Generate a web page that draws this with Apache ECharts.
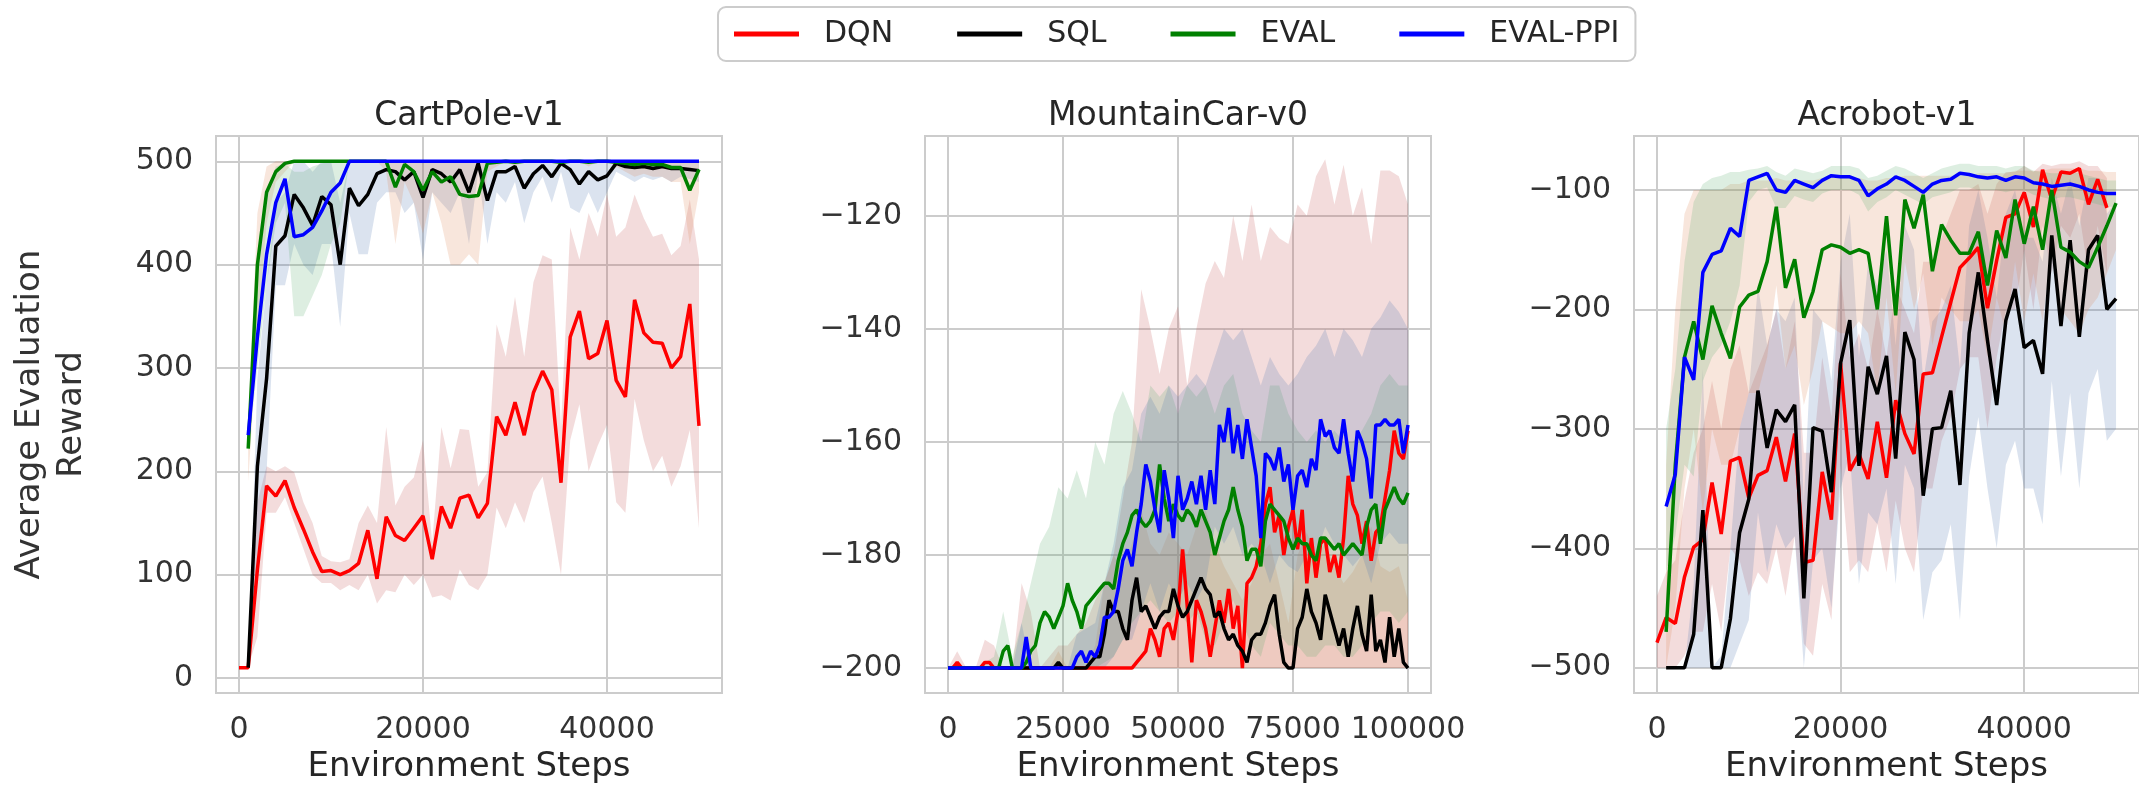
<!DOCTYPE html>
<html>
<head>
<meta charset="utf-8">
<title>Average Evaluation Reward</title>
<script src="https://cdn.jsdelivr.net/npm/echarts@6/dist/echarts.min.js"></script>
<style>
  html, body { margin: 0; padding: 0; background: #fff; }
  #chart { width: 2139px; height: 789px; }
</style>
</head>
<body>
<div id="chart"></div>
<script>
const methods = ['DQN', 'SQL', 'EVAL', 'EVAL-PPI'];
const envs = ['CartPole-v1', 'MountainCar-v0', 'Acrobot-v1'];

// tick labels
const xTicks1 = [0, 20000, 40000];
const xTicks2 = [0, 25000, 50000, 75000, 100000];
const xTicks3 = [0, 20000, 40000];
const yTicks1 = [0, 100, 200, 300, 400, 500];
const yTicks2 = [-200, -180, -160, -140, -120];
const yTicks3 = [-500, -400, -300, -200, -100];

// ---- CartPole-v1 ----
const steps1 = [0, 1000, 2000, 3000, 4000, 5000, 6000, 7000, 8000, 9000,
  10000, 11000, 12000, 13000, 14000, 15000, 16000, 17000, 18000, 19000,
  20000, 21000, 22000, 23000, 24000, 25000, 26000, 27000, 28000, 29000,
  30000, 31000, 32000, 33000, 34000, 35000, 36000, 37000, 38000, 39000,
  40000, 41000, 42000, 43000, 44000, 45000, 46000, 47000, 48000, 49000, 50000];
const dqn1 = [10, 10, 105, 186, 176, 191, 165, 144, 122, 103, 104, 100, 104, 111, 143, 96, 156, 138, 133, 145,
  157, 115, 166, 145, 174, 177, 155, 169, 253, 235, 267, 235, 276, 297, 279, 189, 330, 355, 309, 314,
  346, 288, 272, 366, 334, 325, 324, 300, 311, 362, 244];
const sql1 = [null, 10, 205, 290, 418, 428, 468, 455, 438, 466, 458, 400, 474, 457, 468, 488, 492, 490, 482, 490,
  465, 492, 488, 480, 492, 470, 498, 462, 490, 490, 495, 474, 488, 496, 485, 498, 492, 478, 490, 482,
  486, 498, 495, 494, 495, 493, 495, 493, 493, 492, 491];
const eval1 = [null, 222, 400, 470, 490, 498, 500, 500, 500, 500, 500, 500, 500, 500, 500, 500, 500, 475, 497, 490,
  472, 490, 480, 485, 468, 466, 467, 498, 499, 500, 499, 500, 500, 500, 500, 499, 500, 500, 499, 500,
  500, 499, 498, 497, 498, 497, 497, 494, 494, 472, 492];
const ppi1 = [null, 235, 330, 410, 460, 483, 427, 429, 436, 452, 470, 479, 500, 500, 500, 500, 500, 500, 500, 500,
  500, 500, 500, 500, 500, 500, 500, 500, 500, 500, 500, 500, 500, 500, 500, 500, 500, 500, 500, 500,
  500, 500, 500, 500, 500, 500, 500, 500, 500, 500, 500];
const dqnLo1 = [10, 10, 40, 160, 160, 175, 150, 125, 100, 92, 92, 85, 90, 85, 100, 72, 85, 83, 100, 90,
  100, 78, 80, 75, 105, 90, 85, 100, 165, 145, 170, 150, 180, 195, 150, 100, 230, 265, 200, 225,
  245, 170, 160, 270, 230, 200, 215, 185, 205, 240, 145];
const dqnHi1 = [10, 10, 170, 205, 200, 205, 199, 170, 150, 118, 113, 112, 115, 150, 167, 150, 243, 167, 185, 194,
  230, 131, 243, 203, 241, 240, 185, 199, 342, 311, 369, 311, 383, 409, 405, 243, 436, 405, 450, 427,
  468, 427, 436, 468, 445, 427, 430, 409, 418, 463, 405];
const sqlLo1 = [null, 10, 120, 200, 380, 380, 420, 400, 390, 420, 420, 340, 450, 410, 410, 460, 470, 470, 450, 460,
  405, 470, 460, 450, 470, 420, 490, 420, 470, 460, 480, 440, 470, 485, 460, 490, 455, 450, 470, 450,
  470, 490, 485, 480, 485, 482, 485, 480, 485, 483, 480];
const sqlHi1 = [null, 10, 290, 380, 460, 470, 500, 500, 490, 500, 500, 460, 500, 500, 500, 500, 500, 500, 500, 500,
  500, 500, 500, 500, 500, 500, 500, 500, 500, 500, 500, 500, 500, 500, 500, 500, 500, 500, 500, 500,
  500, 500, 500, 500, 500, 500, 500, 500, 500, 500, 500];
const evalLo1 = [null, 190, 330, 440, 480, 490, 500, 500, 500, 500, 500, 500, 500, 500, 500, 500, 490, 420, 480, 460,
  430, 470, 440, 400, 400, 410, 400, 490, 495, 500, 495, 500, 500, 500, 500, 495, 500, 500, 495, 500,
  500, 495, 490, 485, 488, 485, 485, 480, 480, 420, 470];
const evalHi1 = [null, 250, 450, 495, 500, 500, 500, 500, 500, 500, 500, 500, 500, 500, 500, 500, 500, 500, 500, 500,
  500, 500, 500, 500, 500, 500, 500, 500, 500, 500, 500, 500, 500, 500, 500, 500, 500, 500, 500, 500,
  500, 500, 500, 500, 500, 500, 500, 500, 500, 500, 500];
const ppiLo1 = [null, 220, 300, 380, 440, 460, 350, 350, 370, 390, 420, 440, 500, 500, 500, 500, 500, 500, 500, 500,
  500, 500, 500, 500, 500, 500, 500, 500, 500, 500, 500, 500, 500, 500, 500, 500, 500, 500, 500, 500,
  500, 500, 500, 500, 500, 500, 500, 500, 500, 500, 500];
const ppiHi1 = [null, 245, 390, 470, 495, 498, 490, 490, 495, 498, 500, 500, 500, 500, 500, 500, 500, 500, 500, 500,
  500, 500, 500, 500, 500, 500, 500, 500, 500, 500, 500, 500, 500, 500, 500, 500, 500, 500, 500, 500,
  500, 500, 500, 500, 500, 500, 500, 500, 500, 500, 500];

// ---- MountainCar-v0 ----
const steps2 = [0, 1000, 2000, 3000, 4000, 5000, 6000, 7000, 8000, 9000,
  10000, 11000, 12000, 13000, 14000, 15000, 16000, 17000, 18000, 19000,
  20000, 21000, 22000, 23000, 24000, 25000, 26000, 27000, 28000, 29000,
  30000, 31000, 32000, 33000, 34000, 35000, 36000, 37000, 38000, 39000,
  40000, 41000, 42000, 43000, 44000, 45000, 46000, 47000, 48000, 49000,
  50000, 51000, 52000, 53000, 54000, 55000, 56000, 57000, 58000, 59000,
  60000, 61000, 62000, 63000, 64000, 65000, 66000, 67000, 68000, 69000,
  70000, 71000, 72000, 73000, 74000, 75000, 76000, 77000, 78000, 79000,
  80000, 81000, 82000, 83000, 84000, 85000, 86000, 87000, 88000, 89000,
  90000, 91000, 92000, 93000, 94000, 95000, 96000, 97000, 98000, 99000, 100000];
const dqn2 = [-200, -200, -199, -200, -200, -200, -200, -200, -199, -199,
  -200, -200, -200, -200, -200, -200, -200, -200, -200, -200,
  -200, -200, -200, -200, -200, -200, -200, -200, -200, -200,
  -200, -200, -200, -200, -200, -200, -200, -200, -200, -200,
  -200, -199, -198, -197, -193, -195, -198, -193, -192, -195,
  -190, -179, -189, -199, -188, -190, -193, -198, -193, -188,
  -192, -186, -193, -189, -200, -185, -184, -182, -178, -171,
  -168, -176, -173, -180, -175, -172, -179, -172, -185, -177,
  -184, -178, -177, -183, -180, -184, -177, -166, -171, -173,
  -178, -174, -181, -176, -175, -170, -165, -158, -162, -163, -158];
const sql2 = [-200, -200, -200, -200, -200, -200, -200, -200, -200, -200,
  -200, -200, -200, -200, -200, -200, -200, -200, -200, -200,
  -200, -200, -200, -200, -199, -200, -200, -200, -200, -200,
  -200, -199, -198, -198, -194, -188, -190, -190, -193, -195,
  -188, -184, -190, -189, -191, -193, -191, -190, -190, -186,
  -189, -191, -190, -188, -186, -184, -186, -187, -191, -190,
  -193, -195, -194, -196, -197, -199, -195, -194, -194, -192,
  -189, -187, -194, -199, -200, -200, -193, -191, -186, -190,
  -192, -195, -187, -190, -193, -196, -193, -198, -193, -189,
  -194, -197, -187, -197, -195, -199, -191, -198, -193, -199, -200];
const eval2 = [-200, -200, -200, -200, -200, -200, -200, -200, -200, -200,
  -200, -200, -197, -196, -200, -200, -200, -199, -197, -196,
  -192, -190, -191, -193, -191, -189, -185, -188, -190, -193,
  -189, -188, -187, -186, -185, -185, -186, -181, -178, -176,
  -173, -172, -174, -175, -174, -172, -164, -170, -174, -171,
  -173, -174, -172, -173, -175, -172, -174, -176, -180, -177,
  -174, -172, -168, -172, -175, -181, -179, -179, -182, -174,
  -171, -172, -173, -174, -177, -179, -177, -178, -178, -180,
  -181, -177, -177, -178, -179, -178, -180, -179, -178, -179,
  -180, -175, -172, -171, -178, -172, -170, -168, -170, -171, -169];
const ppi2 = [-200, -200, -200, -200, -200, -200, -200, -200, -200, -200,
  -200, -200, -200, -200, -200, -200, -200, -194.5, -200, -200,
  -200, -200, -200, -200, -200, -200, -200, -200, -198, -197,
  -199, -197, -198, -196, -191, -191, -190, -186, -181, -179,
  -182, -176, -171, -164, -167, -172, -176, -165, -170, -177,
  -166, -172, -170, -167, -171, -166, -172, -165, -171, -157,
  -160, -154, -162, -157, -163, -156, -161, -166, -177, -162,
  -163, -165, -161, -167, -164, -172, -166, -165, -168, -163,
  -165, -156, -159, -158, -161, -162, -156, -162, -167, -158,
  -160, -163, -170, -157, -157, -156, -157, -157, -156, -162, -157];
// bands every 2000 steps
const bandSteps2 = [0, 2000, 4000, 6000, 8000, 10000, 12000, 14000, 16000, 18000,
  20000, 22000, 24000, 26000, 28000, 30000, 32000, 34000, 36000, 38000,
  40000, 42000, 44000, 46000, 48000, 50000, 52000, 54000, 56000, 58000,
  60000, 62000, 64000, 66000, 68000, 70000, 72000, 74000, 76000, 78000,
  80000, 82000, 84000, 86000, 88000, 90000, 92000, 94000, 96000, 98000, 100000];
const dqnLo2 = [-200, -200, -200, -200, -200, -200, -200, -200, -200, -200,
  -200, -200, -200, -200, -200, -200, -200, -200, -200, -200,
  -200, -200, -200, -200, -200, -200, -200, -200, -200, -200,
  -200, -200, -200, -200, -200, -200, -200, -200, -200, -200,
  -200, -200, -200, -200, -200, -200, -200, -200, -200, -200, -200];
const dqnHi2 = [-200, -197, -200, -200, -195, -196, -200, -200, -185, -190,
  -200, -198, -196, -196, -194, -192, -188, -185, -180, -170,
  -160, -133, -140, -148, -140, -136, -150, -140, -132, -128,
  -131, -120, -128, -118, -128, -122, -124, -125, -118, -120,
  -113, -110, -118, -111, -120, -115, -125, -112, -112, -113, -118];
const sqlLo2 = [-200, -200, -200, -200, -200, -200, -200, -200, -200, -200,
  -200, -200, -200, -200, -200, -200, -200, -200, -200, -200,
  -200, -200, -200, -200, -200, -200, -200, -200, -200, -200,
  -200, -200, -200, -200, -200, -200, -200, -200, -200, -200,
  -200, -200, -200, -200, -200, -200, -200, -200, -200, -200, -200];
const sqlHi2 = [-200, -200, -200, -200, -200, -200, -200, -200, -200, -200,
  -200, -200, -197, -200, -200, -200, -196, -185, -180, -183,
  -178, -172, -178, -180, -176, -178, -180, -175, -172, -178,
  -182, -185, -188, -185, -180, -178, -185, -192, -180, -176,
  -180, -178, -182, -185, -183, -180, -175, -182, -183, -182, -188];
const evalLo2 = [-200, -200, -200, -200, -200, -200, -200, -200, -200, -200,
  -200, -200, -200, -200, -200, -200, -200, -199, -198, -195,
  -192, -190, -188, -190, -192, -190, -192, -190, -195, -196,
  -192, -188, -192, -196, -198, -192, -194, -196, -196, -198,
  -198, -196, -196, -198, -198, -196, -192, -190, -190, -192, -190];
const evalHi2 = [-200, -199, -200, -200, -199, -198, -190, -198, -192, -185,
  -178, -175, -168, -170, -165, -170, -160, -164, -155, -151,
  -155, -160, -150, -152, -150, -155, -150, -152, -150, -155,
  -150, -148, -155, -158, -160, -150, -150, -155, -158, -160,
  -158, -160, -158, -160, -160, -158, -155, -150, -148, -150, -150];
const ppiLo2 = [-200, -200, -200, -200, -200, -200, -200, -200, -200, -200,
  -200, -200, -200, -200, -200, -200, -200, -200, -198, -195,
  -195, -190, -185, -190, -185, -188, -185, -188, -185, -175,
  -178, -175, -180, -178, -180, -185, -180, -182, -183, -180,
  -180, -175, -178, -180, -182, -180, -185, -178, -176, -178, -178];
const ppiHi2 = [-200, -200, -200, -200, -200, -200, -200, -200, -192, -200,
  -200, -200, -200, -200, -194, -193, -192, -185, -178, -168,
  -165, -155, -152, -155, -150, -152, -150, -148, -150, -145,
  -140, -142, -140, -145, -150, -145, -148, -150, -148, -145,
  -143, -140, -145, -140, -142, -145, -140, -138, -135, -137, -140];

// ---- Acrobot-v1 ----
const steps3 = [0, 1000, 2000, 3000, 4000, 5000, 6000, 7000, 8000, 9000,
  10000, 11000, 12000, 13000, 14000, 15000, 16000, 17000, 18000, 19000,
  20000, 21000, 22000, 23000, 24000, 25000, 26000, 27000, 28000, 29000,
  30000, 31000, 32000, 33000, 34000, 35000, 36000, 37000, 38000, 39000,
  40000, 41000, 42000, 43000, 44000, 45000, 46000, 47000, 48000, 49000, 50000];
const dqn3 = [-479, -458, -463, -424, -399, -393, -345, -388, -327, -324, -358, -339, -335, -307, -344, -304, -412, -410, -336, -376,
  -245, -335, -321, -342, -294, -341, -276, -304, -321, -254, -253, -223, -194, -165, -157, -148, -199, -159, -123, -120,
  -102, -131, -83, -108, -85, -86, -82, -112, -91, -115, null];
const sql3 = [null, -500, -500, -500, -472, -368, -500, -500, -459, -387, -359, -268, -316, -284, -294, -280, -442, -299, -302, -353,
  -245, -209, -331, -248, -271, -239, -325, -219, -242, -356, -300, -299, -268, -347, -220, -169, -226, -280, -209, -183,
  -232, -226, -254, -138, -214, -142, -223, -150, -138, -200, -191];
const eval3 = [null, -470, -330, -240, -210, -242, -197, -220, -241, -198, -188, -185, -160, -114, -182, -158, -207, -185, -150, -146,
  -148, -153, -150, -153, -200, -122, -205, -108, -132, -104, -168, -129, -142, -153, -153, -135, -180, -134, -157, -108,
  -145, -114, -150, -100, -148, -152, -160, -165, -148, -130, -111];
const ppi3 = [null, -365, -338, -240, -259, -169, -154, -151, -132, -139, -92, -89, -86, -100, -102, -92, -95, -98, -92, -88,
  -89, -89, -92, -105, -99, -95, -89, -92, -97, -102, -95, -92, -91, -86, -87, -89, -90, -89, -92, -89,
  -90, -94, -95, -97, -96, -95, -97, -100, -102, -103, -103];
const dqnLo3 = [-500, -500, -500, -490, -470, -470, -430, -470, -400, -410, -440, -420, -430, -400, -440, -390, -480, -490, -430, -460,
  -330, -420, -410, -420, -380, -420, -360, -400, -420, -350, -350, -310, -290, -250, -240, -240, -300, -240, -200, -200,
  -150, -200, -130, -170, -130, -140, -120, -170, -130, -170, null];
const dqnHi3 = [-440, -420, -410, -360, -320, -300, -260, -300, -250, -230, -270, -250, -230, -200, -250, -210, -320, -320, -240, -290,
  -170, -240, -220, -250, -200, -240, -180, -200, -220, -160, -160, -140, -120, -100, -100, -95, -120, -95, -85, -85,
  -80, -85, -78, -80, -78, -78, -76, -80, -80, -90, null];
const sqlLo3 = [null, -500, -500, -500, -500, -500, -500, -500, -500, -480, -460, -370, -420, -380, -400, -390, -500, -410, -400, -450,
  -350, -320, -430, -370, -380, -350, -430, -330, -350, -460, -420, -410, -380, -460, -340, -290, -350, -400, -330, -310,
  -350, -350, -380, -260, -340, -270, -350, -270, -250, -310, -300];
const sqlHi3 = [null, -500, -500, -500, -430, -250, -500, -490, -400, -300, -270, -180, -230, -200, -210, -190, -360, -200, -210, -260,
  -160, -120, -240, -160, -180, -150, -230, -130, -150, -260, -210, -200, -180, -250, -130, -100, -140, -190, -120, -100,
  -140, -140, -160, -90, -120, -90, -130, -90, -90, -120, -110];
const evalLo3 = [null, -500, -450, -350, -300, -370, -300, -330, -330, -300, -270, -270, -240, -180, -250, -230, -280, -250, -210, -215,
  -220, -220, -210, -220, -270, -190, -270, -160, -200, -170, -230, -190, -200, -210, -210, -200, -240, -190, -220, -160,
  -210, -170, -210, -150, -200, -210, -220, -200, -190, -170, -150];
const evalHi3 = [null, -330, -200, -120, -100, -100, -100, -100, -95, -95, -92, -92, -92, -90, -92, -92, -92, -92, -90, -90,
  -90, -90, -90, -92, -92, -90, -90, -88, -88, -88, -88, -88, -88, -88, -88, -86, -86, -86, -86, -84,
  -84, -84, -84, -82, -82, -82, -82, -84, -84, -85, -85];
const ppiLo3 = [null, -420, -390, -330, -340, -260, -240, -230, -210, -180, -110, -100, -98, -115, -115, -105, -108, -110, -103, -100,
  -100, -100, -104, -118, -110, -106, -100, -104, -108, -112, -106, -104, -102, -98, -98, -100, -100, -100, -102, -100,
  -100, -104, -106, -108, -106, -106, -108, -110, -112, -114, -114];
const ppiHi3 = [null, -300, -250, -160, -110, -95, -90, -88, -85, -85, -83, -82, -80, -85, -88, -82, -84, -86, -84, -80,
  -80, -80, -82, -90, -88, -84, -80, -82, -86, -90, -86, -82, -80, -78, -78, -80, -80, -80, -82, -80,
  -80, -84, -85, -86, -86, -85, -86, -88, -90, -92, -92];

const FONT = 'DejaVu Sans';
const lineColors = ['#ff0000', '#000000', '#008000', '#0000ff'];
const sns = {
  blue: 'rgba(76,114,176,0.2)',
  orange: 'rgba(221,132,82,0.2)',
  green: 'rgba(85,168,104,0.2)',
  red: 'rgba(196,78,82,0.2)'
};

const panels = [
  {
    steps: steps1, bandSteps: steps1,
    means: [dqn1, sql1, eval1, ppi1],
    lows: [dqnLo1, sqlLo1, evalLo1, ppiLo1],
    highs: [dqnHi1, sqlHi1, evalHi1, ppiHi1],
    bandColors: [sns.red, sns.blue, sns.orange, sns.green],
    xMin: -2500, xMax: 52500, yMin: -14.5, yMax: 524.5,
    xTicks: xTicks1, yTicks: yTicks1, left: 216
  },
  {
    steps: steps2, bandSteps: bandSteps2,
    means: [dqn2, sql2, eval2, ppi2],
    lows: [dqnLo2, sqlLo2, evalLo2, ppiLo2],
    highs: [dqnHi2, sqlHi2, evalHi2, ppiHi2],
    bandColors: [sns.red, sns.orange, sns.green, sns.blue],
    xMin: -5000, xMax: 105000, yMin: -204.4, yMax: -105.9,
    xTicks: xTicks2, yTicks: yTicks2, left: 925
  },
  {
    steps: steps3, bandSteps: steps3,
    means: [dqn3, sql3, eval3, ppi3],
    lows: [dqnLo3, sqlLo3, evalLo3, ppiLo3],
    highs: [dqnHi3, sqlHi3, evalHi3, ppiHi3],
    bandColors: [sns.red, sns.blue, sns.orange, sns.green],
    xMin: -2500, xMax: 52500, yMin: -521.2, yMax: -54.8,
    xTicks: xTicks3, yTicks: yTicks3, left: 1634
  }
];

const GRID_TOP = 136, GRID_W = 506, GRID_H = 559;

function fmt(v) {
  return String(v).replace('-', '\u2212');
}

function pairs(xs, ys) {
  const out = [];
  xs.forEach(function (x, i) {
    if (ys[i] != null) out.push([x, ys[i]]);
  });
  return out;
}

function bandSeries(name, xs, lo, hi, color, idx) {
  const pts = [];
  xs.forEach(function (x, i) {
    if (lo[i] != null && hi[i] != null) pts.push([x, lo[i], hi[i]]);
  });
  return {
    type: 'custom',
    name: name + ' band',
    xAxisIndex: idx,
    yAxisIndex: idx,
    data: pts,
    encode: { x: 0, y: [1, 2] },
    silent: true,
    clip: true,
    z: 1,
    renderItem: function (params, api) {
      if (params.dataIndex !== 0) return null;
      const top = pts.map(function (p) { return api.coord([p[0], p[2]]); });
      const bottom = pts.map(function (p) { return api.coord([p[0], p[1]]); }).reverse();
      return {
        type: 'polygon',
        shape: { points: top.concat(bottom) },
        style: { fill: color, stroke: null }
      };
    }
  };
}

const grids = [], xAxes = [], yAxes = [], titles = [], series = [];

panels.forEach(function (p, i) {
  grids.push({
    left: p.left, top: GRID_TOP, width: GRID_W, height: GRID_H,
    show: true, borderColor: '#cccccc', borderWidth: 2, backgroundColor: 'transparent'
  });
  xAxes.push({
    type: 'value', gridIndex: i, min: p.xMin, max: p.xMax,
    axisLine: { show: false },
    axisTick: { show: false, customValues: p.xTicks },
    axisLabel: { customValues: p.xTicks, margin: 22, fontSize: 30, color: '#333', fontFamily: FONT, formatter: fmt },
    splitLine: { show: true, lineStyle: { color: '#cccccc', width: 2 } },
    name: 'Environment Steps', nameLocation: 'middle', nameGap: 57,
    nameTextStyle: { fontSize: 34, color: '#262626', fontFamily: FONT }
  });
  const y = {
    type: 'value', gridIndex: i, min: p.yMin, max: p.yMax,
    axisLine: { show: false },
    axisTick: { show: false, customValues: p.yTicks },
    axisLabel: { customValues: p.yTicks, margin: 23, fontSize: 30, color: '#333', fontFamily: FONT, formatter: fmt },
    splitLine: { show: true, lineStyle: { color: '#cccccc', width: 2 } }
  };
  if (i === 0) {
    y.name = 'Average Evaluation\nReward';
    y.nameLocation = 'middle';
    y.nameRotate = 90;
    y.nameGap = 123;
    y.nameTextStyle = { fontSize: 34, lineHeight: 42, color: '#333', fontFamily: FONT, align: 'center' };
  }
  yAxes.push(y);
  titles.push({
    text: envs[i], left: p.left + GRID_W / 2, top: 100, textAlign: 'center', padding: 0,
    textStyle: { fontSize: 33, fontWeight: 'normal', color: '#262626', fontFamily: FONT }
  });
  methods.forEach(function (m, k) {
    series.push(bandSeries(m, p.bandSteps, p.lows[k], p.highs[k], p.bandColors[k], i));
  });
  methods.forEach(function (m, k) {
    series.push({
      type: 'line', name: m, xAxisIndex: i, yAxisIndex: i,
      data: pairs(p.steps, p.means[k]),
      symbol: 'none', showSymbol: false, clip: true, z: 3,
      lineStyle: { color: lineColors[k], width: 3.5 },
      itemStyle: { color: lineColors[k] }
    });
  });
});

const chart = echarts.init(document.getElementById('chart'), null, { renderer: 'canvas' });
chart.setOption({
  animation: false,
  backgroundColor: '#ffffff',
  title: titles,
  legend: {
    data: methods.map(function (m) { return { name: m, icon: 'rect' }; }),
    left: 718, top: 7,
    padding: [12, 16],
    itemWidth: 65, itemHeight: 5, itemGap: 64,
    borderColor: '#cccccc', borderWidth: 2, borderRadius: 8,
    backgroundColor: '#ffffff',
    textStyle: { fontSize: 30, color: '#262626', fontFamily: FONT, padding: [0, 0, 0, 20] }
  },
  grid: grids,
  xAxis: xAxes,
  yAxis: yAxes,
  series: series
});
</script>
</body>
</html>
